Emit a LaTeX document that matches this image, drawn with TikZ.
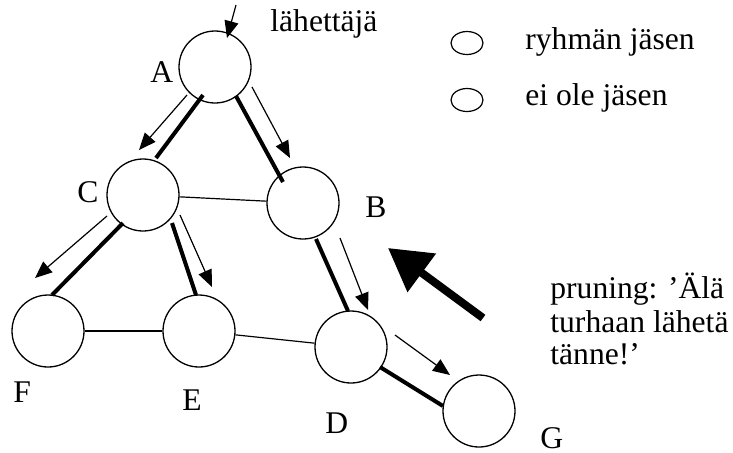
\documentclass[tikz,border=0pt]{standalone}
\usepackage{fontspec}
\setmainfont{Liberation Serif}
\usetikzlibrary{arrows.meta,shapes.geometric}
\tikzset{
  member/.style={circle, draw, fill=white, line width=0.65pt, minimum size=36pt, inner sep=0pt},
  lbl/.style={anchor=base west, inner sep=0pt, font=\fontsize{15.8pt}{18pt}\selectfont},
  tree/.style={line width=2pt},
  link/.style={line width=0.6pt},
  msg/.style={line width=0.6pt, -{Triangle[length=8.5pt,width=7pt]}},
  prune/.style={line width=4pt, -{Triangle[length=21pt,width=23pt]}},
  legendov/.style={ellipse, draw, line width=0.6pt, minimum width=16pt, minimum height=11.5pt, inner sep=0pt}
}
\begin{document}
\begin{tikzpicture}[x=0.5pt,y=-0.5pt]
\useasboundingbox (0,0) rectangle (733,452);
% nodes
\node[member] (A) at (215,67) {};
\node[member] (B) at (303,203) {};
\node[member] (C) at (143,195) {};
\node[member] (D) at (351,347) {};
\node[member] (E) at (199,331) {};
\node[member] (F) at (48,331) {};
\node[member] (G) at (479,411) {};
% plain links
\draw[link] (C) -- (B);
\draw[link] (F) -- (E);
\draw[link] (E) -- (D);
% multicast tree (thick)
\draw[tree] ([shift={(-12,28)}]A.center) -- ([shift={(13,-37)}]C.center);
\draw[tree] ([shift={(21,29)}]A.center) -- ([shift={(-20,-21)}]B.center);
\draw[tree] ([shift={(-20,28)}]C.center) -- ([shift={(4,-36)}]F.center);
\draw[tree] ([shift={(29,28)}]C.center) -- ([shift={(-3,-36)}]E.center);
\draw[tree] ([shift={(13,36)}]B.center) -- ([shift={(-3,-36)}]D.center);
\draw[tree] ([shift={(29,20)}]D.center) -- ([shift={(-36,-5)}]G.center);
% message arrows
\draw[msg] ([shift={(-28,28)}]A.center) -- ([shift={(-4,-45)}]C.center);
\draw[msg] ([shift={(37,20)}]A.center) -- ([shift={(-13,-45)}]B.center);
\draw[msg] ([shift={(-36,21)}]C.center) -- ([shift={(-13,-53)}]F.center);
\draw[msg] ([shift={(37,20)}]C.center) -- ([shift={(13,-44)}]E.center);
\draw[msg] ([shift={(37,35)}]B.center) -- ([shift={(17,-37)}]D.center);
\draw[msg] ([shift={(44,-12)}]D.center) -- ([shift={(-29,-36)}]G.center);
% sender arrow
\coordinate (src) at (236,5);
\draw[msg] (src) -- ([shift={(12,-29)}]A.center);
\node[lbl] (snd) at (270,31) {lähettäjä};
% labels
\node[lbl] (lA) at (150,82) {A};
\node[lbl] (lB) at (365,217) {B};
\node[lbl] (lC) at (77,202) {C};
\node[lbl] (lF) at (13,402) {F};
\node[lbl] (lE) at (182,410) {E};
\node[lbl] (lD) at (325,433) {D};
\node[lbl] (lG) at (540,448) {G};
% legend
\node[legendov] (k1) at (467,43) {};
\node[legendov] (k2) at (467,100) {};
\node[lbl] (t1) at (525,49) {ryhmän jäsen};
\node[lbl] (t2) at (525,105) {ei ole jäsen};
% pruning
\coordinate (pt) at (483,318);
\coordinate (ph) at (388,248);
\draw[prune] (pt) -- (ph);
\node[lbl] (p1) at (550,298) {pruning: ’Älä};
\node[lbl] (p2) at (550,332) {turhaan lähetä};
\node[lbl] (p3) at (550,364) {tänne!’};
\end{tikzpicture}
\end{document}
